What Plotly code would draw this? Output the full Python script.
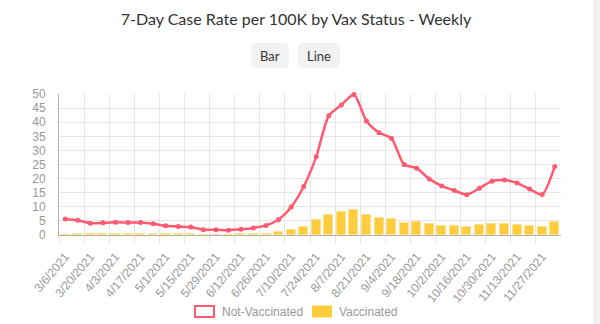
import plotly.graph_objects as go
import datetime as dt

# ---- data ----
start = dt.date(2021, 3, 6)
weeks = [start + dt.timedelta(days=7 * k) for k in range(40)]
week_labels = [f"{d.month}/{d.day}/{d.year}" for d in weeks]

not_vaccinated = [5.7, 5.2, 4.2, 4.3, 4.5, 4.4, 4.4, 4.0, 3.3, 3.0,
                  2.8, 1.9, 1.9, 1.7, 2.0, 2.5, 3.4, 5.5, 9.9, 17.2,
                  27.8, 42.3, 46.1, 49.8, 40.4, 36.3, 34.2, 25.0, 23.7, 19.9,
                  17.4, 15.8, 14.3, 16.6, 19.1, 19.5, 18.4, 16.3, 14.4, 24.3]
vaccinated = [0.1, 0.3, 0.2, 0.3, 0.4, 0.3, 0.4, 0.2, 0.2, 0.2,
              0.2, 0.1, 0.1, 0.1, 0.2, 0.3, 0.4, 0.9, 1.8, 3.0,
              5.4, 7.2, 8.2, 8.8, 7.2, 6.1, 5.8, 4.4, 4.7, 3.8,
              3.3, 3.2, 2.9, 3.6, 4.0, 4.0, 3.6, 3.3, 2.9, 4.6]

title_text = "7-Day Case Rate per 100K by Vax Status - Weekly"
series_names = ["Not-Vaccinated", "Vaccinated"]

RED = "rgb(255,90,112)"
YEL = "rgb(255,205,60)"
GRID = "#e6e6e6"
TICKC = "#999999"

idx = list(range(len(weeks)))

fig = go.Figure()
fig.add_trace(go.Bar(x=idx, y=vaccinated, name=series_names[1], width=0.72,
                     marker=dict(color=YEL, line=dict(color="rgba(255,224,140,1)", width=1)),
                     showlegend=False))
fig.add_trace(go.Scatter(x=idx, y=not_vaccinated, name=series_names[0], mode="lines+markers",
                         line=dict(color=RED, width=2.5, shape="spline", smoothing=0.7),
                         marker=dict(color=RED, size=5), showlegend=False, cliponaxis=False))

# plot area in pixels
L, R, T, B = 59, 561, 94, 235
W, H = R - L, B - T
def px(x):
    return (x - L) / W
def py(y):
    return (B - y) / H

major = [i for i in idx if i % 2 == 0]
fig.update_xaxes(
    range=[-0.5, len(weeks) - 0.5],
    tickmode="array", tickvals=major, ticktext=[week_labels[i] for i in major],
    tickangle=-50, showgrid=False, ticks="", ticklabelstandoff=9,
    tickfont=dict(family="Liberation Sans, Arial", size=12, color=TICKC),
    showline=True, linecolor="#b0b0b0", linewidth=1,
    minor=dict(tickmode="array", tickvals=[i - 0.5 for i in major], showgrid=True,
               gridcolor=GRID, gridwidth=1, ticks="outside", ticklen=8, tickcolor=GRID),
    zeroline=False, fixedrange=True,
)
fig.update_yaxes(
    range=[0, 50], dtick=5, tick0=0, showgrid=True, gridcolor=GRID, gridwidth=1,
    showline=True, linecolor="#b0b0b0", linewidth=1, zeroline=False,
    ticks="", ticklabelstandoff=10,
    tickfont=dict(family="Liberation Sans, Arial", size=12, color=TICKC),
)

shapes = []
annotations = []

def rrect(x0, y0, x1, y1, r, fill):
    # rounded rect in pixel coords -> paper path
    rx, ry = r / W, r / H
    X0, X1 = px(x0), px(x1)
    Y0, Y1 = py(y1), py(y0)  # bottom, top in paper
    path = (f"M {X0+rx},{Y1} L {X1-rx},{Y1} Q {X1},{Y1} {X1},{Y1-ry} "
            f"L {X1},{Y0+ry} Q {X1},{Y0} {X1-rx},{Y0} L {X0+rx},{Y0} "
            f"Q {X0},{Y0} {X0},{Y0+ry} L {X0},{Y1-ry} Q {X0},{Y1} {X0+rx},{Y1} Z")
    return dict(type="path", xref="paper", yref="paper", path=path,
                fillcolor=fill, line=dict(width=0), layer="above")

# buttons
shapes.append(rrect(251, 43, 289, 68, 5, "#f2f2f2"))
shapes.append(rrect(298, 43, 340, 68, 5, "#f2f2f2"))
for label, cx in [("Bar", 270), ("Line", 319)]:
    annotations.append(dict(text=label, xref="paper", yref="paper", x=px(cx), y=py(55.5),
                            xanchor="center", yanchor="middle", showarrow=False,
                            font=dict(family="Lato", size=13, color="#333333")))

# legend
shapes.append(dict(type="rect", xref="paper", yref="paper", x0=px(195), x1=px(214),
                   y0=py(317), y1=py(306), fillcolor="white", line=dict(color=RED, width=2)))
shapes.append(dict(type="rect", xref="paper", yref="paper", x0=px(312), x1=px(332),
                   y0=py(317.5), y1=py(305.5), fillcolor=YEL, line=dict(width=0)))
annotations.append(dict(text=series_names[0], xref="paper", yref="paper", x=px(220), y=py(311.5),
                        xanchor="left", yanchor="middle", showarrow=False,
                        font=dict(family="Liberation Sans, Arial", size=12, color="#999999")))
annotations.append(dict(text=series_names[1], xref="paper", yref="paper", x=px(337), y=py(311.5),
                        xanchor="left", yanchor="middle", showarrow=False,
                        font=dict(family="Liberation Sans, Arial", size=12, color="#999999")))

# scrollbar-like strip at right
shapes.append(dict(type="rect", xref="paper", yref="paper", x0=px(593), x1=px(601),
                   y0=py(325), y1=py(-1), fillcolor="#f1f1f1", line=dict(width=0), layer="above"))

fig.update_layout(
    width=600, height=324,
    margin=dict(l=L, r=600 - R, t=T, b=324 - B, pad=0),
    paper_bgcolor="white", plot_bgcolor="white",
    title=dict(text=title_text, xref="paper", x=px(296), xanchor="center",
               yref="container", y=1 - 19 / 324, yanchor="middle",
               font=dict(family="Lato", size=16, color="#333333")),
    shapes=shapes, annotations=annotations,
    showlegend=False, bargap=0,
)

fig.write_html("out.html", config={"displayModeBar": False})
